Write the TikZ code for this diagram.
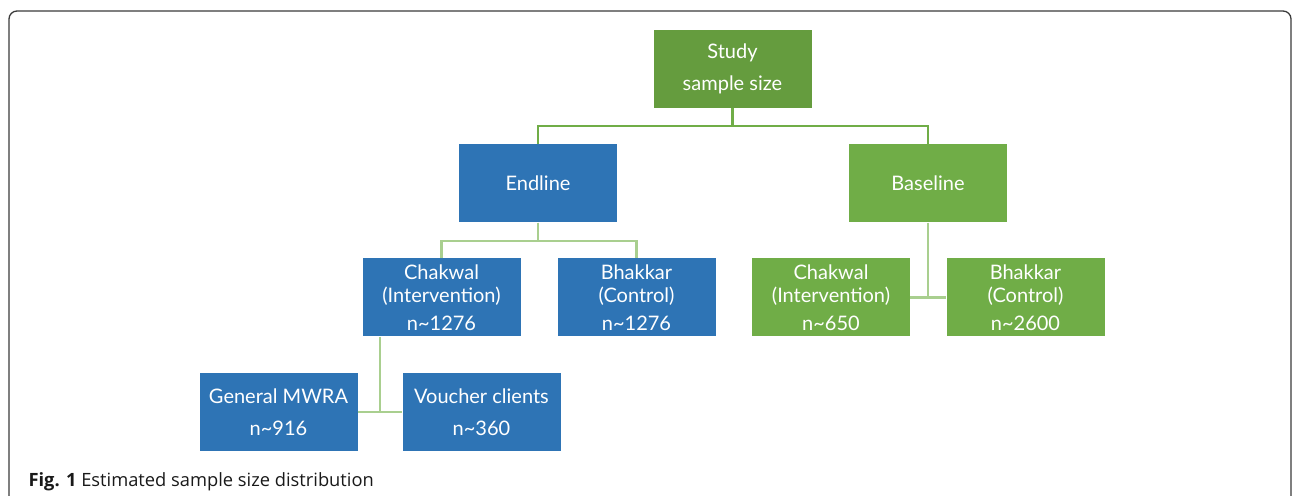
\documentclass[tikz,border=0pt]{standalone}
\usepackage{fontspec}
\setmainfont{Lato}
\newfontfamily\capfont{Open Sans}
\usetikzlibrary{calc}
\definecolor{studygreen}{HTML}{659C3E}
\definecolor{basegreen}{HTML}{70AD47}
\definecolor{endblue}{HTML}{2E74B5}
\definecolor{linkgreen}{HTML}{70AD47}
\definecolor{palegreen}{HTML}{A9CF8F}
\definecolor{framegray}{HTML}{3A3A3A}

\begin{document}
\begin{tikzpicture}[x=1pt,y=1pt,
    box/.style={minimum width=158pt,minimum height=78pt,inner sep=0pt,align=center,text=white,font=\fontsize{20}{23}\selectfont},
    endbox/.style={box,fill=endblue},
    basebox/.style={box,fill=basegreen},
    link/.style={draw=linkgreen,line width=2.2pt},
    sublink/.style={draw=palegreen,line width=2.2pt}]
        \useasboundingbox (0,0) rectangle (1292,495);
        \draw[line width=1.3pt,draw=framegray,rounded corners=8pt] (9,-10) -- (9,484) -- (1291,484) -- (1291,-10);

        \node[box,fill=studygreen] (study) at (732.5,426) {Study\\[9pt]sample size};

        \pgfmathsetmacro{\y}{311.5}
        \node[endbox] (endline) at (538,\y) {Endline};
        \node[basebox] (baseline) at (928,\y) {Baseline};

        \pgfmathsetmacro{\y}{197.5}
        \node[endbox] (chakE) at (441.5,\y) {Chakwal\\(Intervention)\\[5pt]n\textasciitilde1276};
        \node[endbox] (bhakE) at (636.5,\y) {Bhakkar\\(Control)\\[5pt]n\textasciitilde1276};
        \node[basebox] (chakB) at (831,\y) {Chakwal\\(Intervention)\\[5pt]n\textasciitilde650};
        \node[basebox] (bhakB) at (1025.5,\y) {Bhakkar\\(Control)\\[5pt]n\textasciitilde2600};

        \pgfmathsetmacro{\y}{83}
        \node[endbox] (mwra) at (278.5,\y) {General MWRA\\[9pt]n\textasciitilde916};
        \node[endbox] (voucher) at (481.5,\y) {Voucher clients\\[9pt]n\textasciitilde360};

        \draw[link] (study.south) -- ++(0,-18) -| (endline.north);
        \draw[link] (study.south) -- ++(0,-18) -| (baseline.north);

        \draw[sublink] (endline.south) -- ++(0,-18) -| (chakE.north);
        \draw[sublink] (endline.south) -- ++(0,-18) -| (bhakE.north);

        \draw[sublink] (chakB.east) -- (bhakB.west);
        \draw[sublink] (baseline.south) -- (baseline.south |- chakB.east);

        \coordinate (split) at ($(mwra.east)!0.5!(voucher.west)$);
        \draw[sublink] (mwra.east) -- (voucher.west);
        \draw[sublink] (split |- chakE.south) -- (split);

        \node[anchor=base west,font=\capfont\fontsize{18.3}{21}\selectfont,text=black!90] (caption) at (25,9) {\textbf{Fig. 1} Estimated sample size distribution};
\end{tikzpicture}
\end{document}
